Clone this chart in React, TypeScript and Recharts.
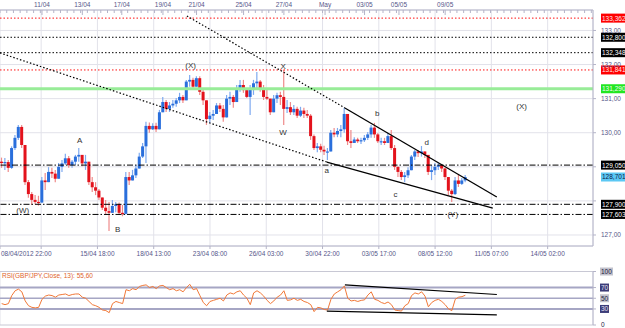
import React from 'react';
import {
  ComposedChart,
  LineChart,
  Line,
  Bar,
  XAxis,
  YAxis,
  CartesianGrid,
  ReferenceLine,
  ReferenceDot,
} from 'recharts';

// GBP/JPY, 4-hour buckets
const closes = [
  129.11, 129.14, 128.97, 129.55, 129.85, 130.17, 129.64, 128.55, 128.2, 128.03,
  127.97, 127.95, 128.6, 128.55, 128.85, 128.8, 128.65, 129.0, 129.1, 129.25,
  129.05, 129.15, 129.3, 129.35, 129.1, 129.15, 128.55, 128.4, 128.3, 128.1,
  127.8, 127.7, 127.65, 127.85, 127.9, 127.65, 127.62, 128.7, 128.6, 128.75,
  128.95, 129.3, 129.6, 130.2, 130.1, 130.2, 130.1, 130.6, 130.9, 130.7,
  130.8, 130.85, 130.95, 131.05, 130.95, 131.5, 131.55, 131.35, 131.6, 131.2,
  130.95, 130.4, 130.5, 130.55, 130.8, 130.7, 130.45, 131.0, 131.05, 130.9,
  131.3, 131.4, 131.25, 131.05, 131.3, 131.45, 131.5, 131.3, 131.05, 131.0,
  130.6, 131.0, 131.1, 131.05, 130.7, 130.75, 130.6, 130.7, 130.5, 130.65,
  130.55, 130.5, 129.9, 129.55, 129.6, 129.5, 129.45, 129.45, 130.0, 129.95,
  130.05, 130.1, 130.55, 129.75, 129.7, 129.8, 129.75, 129.78, 129.85, 129.95,
  130.15, 129.95, 129.75, 129.75, 129.7, 129.9, 129.55, 129.0, 128.85, 128.7,
  128.75, 128.9, 129.3, 129.45, 129.4, 129.45, 129.35, 128.85, 128.9, 129.0,
  129.05, 128.95, 128.7, 128.3, 128.2, 128.6, 128.5, 128.6, 128.7,
];
const highs = [
  129.27, 129.26, 129.2, 129.6, 129.93, 130.23, 130.23, 129.2, 128.61, 128.26,
  128.17, 128.15, 128.7, 128.82, 128.99, 128.97, 128.91, 129.11, 129.2, 129.38,
  129.32, 129.2, 129.35, 129.55, 129.3, 129.35, 129.15, 128.7, 128.55, 128.35,
  128.1, 128.03, 127.97, 128.03, 127.97, 127.95, 127.88, 128.85, 128.85, 128.91,
  129.05, 129.41, 129.7, 130.32, 130.3, 130.28, 130.29, 130.67, 131.05, 130.96,
  130.9, 130.96, 131.02, 131.17, 131.11, 131.55, 131.69, 131.61, 131.66, 131.66,
  131.31, 130.85, 130.61, 130.67, 130.87, 130.87, 130.81, 131.11, 131.2, 131.11,
  131.4, 131.55, 131.55, 131.25, 131.4, 131.55, 131.78, 131.55, 131.4, 131.25,
  130.96, 131.11, 131.17, 131.2, 131.84, 130.96, 130.9, 130.81, 130.76, 130.76,
  130.73, 130.67, 130.55, 129.95, 129.7, 129.68, 129.62, 129.55, 130.08, 130.14,
  130.14, 130.23, 130.73, 130.55, 130.08, 129.87, 129.85, 129.85, 129.93, 130.02,
  130.23, 130.29, 129.99, 129.85, 129.85, 129.99, 130.08, 129.64, 129.0, 128.91,
  128.85, 128.99, 129.35, 129.49, 129.49, 129.61, 129.43, 129.35, 129.05, 129.11,
  129.11, 129.05, 128.97, 128.61, 128.35, 128.7, 128.76, 128.67, 128.76,
];
const lows = [
  128.97, 128.91, 128.85, 128.94, 129.49, 129.79, 129.55, 128.47, 128.09, 127.88,
  127.9, 127.86, 128.0, 128.32, 128.61, 128.67, 128.55, 128.76, 128.85, 129.05,
  128.97, 128.97, 129.05, 129.15, 129.02, 128.91, 128.47, 128.26, 128.17, 128.03,
  127.73, 127.59, 127.12, 127.67, 127.67, 127.59, 127.55, 127.6, 128.47, 128.61,
  128.67, 129.05, 129.26, 129.11, 130.0, 130.08, 130.02, 130.25, 130.67, 130.61,
  130.61, 130.73, 130.76, 130.87, 130.87, 131.0, 131.35, 131.25, 131.4, 131.11,
  130.81, 130.23, 130.29, 130.37, 130.58, 130.61, 130.32, 130.73, 130.81, 130.73,
  130.96, 131.2, 131.17, 131.02, 130.52, 131.11, 131.3, 131.2, 130.96, 130.96,
  130.52, 130.81, 130.87, 130.81, 130.23, 130.58, 130.52, 130.52, 130.43, 130.46,
  130.43, 130.43, 129.79, 129.49, 129.43, 129.43, 129.35, 129.2, 129.45, 129.87,
  129.87, 129.87, 130.0, 129.64, 129.55, 129.7, 129.7, 129.67, 129.73, 129.79,
  129.85, 129.85, 129.7, 129.64, 129.64, 129.73, 129.49, 128.91, 128.7, 128.61,
  128.55, 128.67, 128.99, 129.2, 129.29, 129.3, 129.26, 128.76, 128.61, 128.76,
  128.91, 128.85, 128.61, 128.17, 127.97, 128.17, 128.41, 128.47, 128.55,
];
const rsiValues = [
  40, 38, 40, 55, 64, 67, 62, 45, 36, 33,
  32, 33, 48, 54, 56, 55, 52, 56, 57, 58,
  55, 57, 58, 58, 52, 50, 44, 38, 36, 33,
  28, 27, 23, 40, 44, 42, 40, 66, 64, 68,
  66, 72, 74, 75, 70, 72, 68, 73, 74, 70,
  66, 68, 64, 66, 62, 70, 76, 66, 68, 55,
  42, 36, 44, 46, 48, 50, 45, 56, 60, 58,
  62, 64, 56, 50, 38, 60, 64, 60, 54, 46,
  40, 45, 52, 56, 64, 46, 47, 50, 46, 48,
  44, 42, 38, 25, 33, 32, 29, 28, 48, 58,
  62, 66, 73, 50, 45, 46, 44, 46, 47, 56,
  62, 48, 46, 42, 40, 43, 38, 28, 27, 26,
  36, 40, 55, 60, 58, 62, 54, 34, 42, 46,
  48, 44, 38, 30, 27, 48, 52, 53, 55.6,
];
const firstOpen = 129.15;
const hoursPerCandle = 4;
const lastHour = 706;

const topTicks = [50, 98, 145, 194, 234, 290, 338, 387, 434, 475, 530];
const topLabels = ['11/04', '13/04', '17/04', '19/04', '21/04', '25/04', '27/04', 'May', '03/05', '05/05', '09/05'];
const bottomTicks = [0, 49, 116, 183, 250, 317, 384, 451, 518, 585, 652];
const bottomLabels = [
  '08/04/2012 22:00', '', '15/04 18:00', '18/04 13:00', '23/04 08:00', '26/04 03:00',
  '30/04 22:00', '03/05 17:00', '08/05 12:00', '11/05 07:00', '14/05 02:00',
];
const priceTicks = [127, 128, 129, 130, 131, 132, 133];
// 128,00 and 129,00 sit under the level tags in the original
const hiddenPriceTicks = [128, 129];
const levelValues = [133.362, 132.8, 132.348, 131.841, 131.29, 129.05, 127.9, 127.603];
const lastPrice = 128.701;
const rsiTicks = [0, 30, 50, 70, 100];
const rsiBands = [70, 50, 30];

const waveNames = ['(W)', 'A', 'B', '(X)', 'X', 'W', 'a', 'b', 'c', 'd', '(Y)', '(X)'];
const waveHours = [27, 95, 140, 227, 337, 337, 389, 449, 471, 508, 539, 621];
const wavePrices = [127.73, 129.76, 127.15, 131.96, 131.93, 130.02, 128.88, 130.55, 128.2, 129.7, 127.59, 130.76];

// wedge lines: [hour, price]
const upperDotted = [[222.5, 133.425], [410.6, 130.726]];
const upperSolid = [[410.6, 130.726], [591.5, 128.115]];
const lowerDotted = [[0, 132.34], [389.1, 129.14]];
const lowerSolid = [[389.1, 129.14], [586.7, 127.79]];
const rsiUpper = [[410.6, 75], [591.5, 57]];
const rsiLower = [[389.1, 25.9], [591.5, 18.8]];

const AXIS_TEXT = '#56568a';
const GRID = '#e2e2ea';
const FRAME = '#b4b4c8';

const candles = closes.map((close, i) => {
  const open = i === 0 ? firstOpen : closes[i - 1];
  const high = Math.max(highs[i], open, close);
  const low = Math.min(lows[i], open, close);
  return { t: i * hoursPerCandle + hoursPerCandle / 2, open, close, high, low, range: [low, high] };
});
const rsiData = rsiValues.map((v, i) => ({ t: i * hoursPerCandle + hoursPerCandle / 2, rsi: v }));
const topMinor = Array.from({ length: 89 }, (_, i) => i * 8);

const levelStyle = (i: number) => {
  if (i === 0 || i === 3) return { stroke: '#ff1010', dash: '1.5 2', width: 1, bg: '#ff0000', fg: '#ffe8e8' };
  if (i === 1 || i === 2) return { stroke: '#000', dash: '1.5 2', width: 1, bg: '#000', fg: '#fff' };
  if (i === 4) return { stroke: '#98ec98', dash: undefined, width: 3, bg: '#22e622', fg: '#f0fff0' };
  return { stroke: '#000', dash: '6 2 1.5 2', width: 1, bg: '#000', fg: '#fff' };
};

const fmt2 = (v: number) => (hiddenPriceTicks.includes(v) ? '' : v.toFixed(2).replace('.', ','));
const fmt3 = (v: number) => v.toFixed(3).replace('.', ',');

function Candle(props: any) {
  const { x, y, width, height, payload } = props;
  if (!payload || height == null) return null;
  const { open, close, high, low } = payload;
  const up = close >= open;
  const body = up ? '#2a6fdc' : '#e3121c';
  const wick = up ? '#7eaaf0' : '#ef8a8a';
  const span = high - low || 1;
  const toY = (v: number) => y + ((high - v) / span) * height;
  const cx = x + width / 2;
  const top = toY(Math.max(open, close));
  const bottom = toY(Math.min(open, close));
  return (
    <g>
      <line x1={cx} x2={cx} y1={y} y2={y + height} stroke={wick} strokeWidth={1.2} />
      <rect x={cx - 1.5} y={top} width={3} height={Math.max(bottom - top, 1.2)} fill={body} />
    </g>
  );
}

function TopTick({ x, y, payload }: any) {
  const i = topTicks.indexOf(payload.value);
  return (
    <g>
      <line x1={x} x2={x} y1={y} y2={y + (i >= 0 ? 5 : 3)} stroke={FRAME} />
      {i >= 0 && (
        <text x={x} y={y - 3} textAnchor="middle" fontSize={6.5} fill={AXIS_TEXT}>
          {topLabels[i]}
        </text>
      )}
    </g>
  );
}

function BottomTick({ x, y, payload }: any) {
  const i = bottomTicks.indexOf(payload.value);
  const first = i === 0;
  return (
    <text x={first ? x + 1 : x} y={y + 5} textAnchor={first ? 'start' : 'middle'} fontSize={6.5} fill={AXIS_TEXT}>
      {bottomLabels[i] || ''}
    </text>
  );
}

function PriceTag({ viewBox, text, bg, fg }: any) {
  if (!viewBox) return null;
  const x = viewBox.x + viewBox.width + 8;
  const y = viewBox.y;
  return (
    <g>
      <rect x={x} y={y - 4.5} width={25} height={9} fill={bg} />
      <text x={x + 1} y={y + 2.4} fontSize={6.5} fill={fg}>
        {text}
      </text>
    </g>
  );
}

function RsiTick({ x, y, payload }: any) {
  const v = payload.value;
  const dark = v === 30 || v === 70;
  return (
    <g>
      {v !== 0 && (
        <rect x={x - 1} y={y - 4} width={v === 100 ? 13 : 9} height={8} fill={dark ? '#3c3c78' : '#c2c2cc'} />
      )}
      <text x={x} y={y + 2.3} fontSize={6.5} fill={dark ? '#e4e4f4' : '#202040'}>
        {v}
      </text>
    </g>
  );
}

function WaveLabel(name: string) {
  return (p: any) => (
    <text x={p.cx} y={p.cy} textAnchor="middle" dominantBaseline="central" fontSize={8} fill="#333">
      {name}
    </text>
  );
}

const seg = (pts: number[][]) => pts.map(([x, y]) => ({ x, y }));

export default function App() {
  return (
    <div
      style={{
        position: 'absolute',
        left: 0,
        top: 0,
        width: 625,
        height: 328,
        background: '#fff',
        fontFamily: '"Liberation Sans", Arial, sans-serif',
      }}
    >
      <div style={{ position: 'absolute', left: 0, top: 0 }}>
        <ComposedChart width={625} height={260} data={candles} margin={{ top: 0, right: 0, bottom: 0, left: 0 }}>
          <CartesianGrid xAxisId="b" yAxisId="p" stroke={GRID} />
          <XAxis
            xAxisId="t"
            orientation="top"
            type="number"
            dataKey="t"
            domain={[0, lastHour]}
            allowDataOverflow
            ticks={topMinor.concat(topTicks)}
            interval={0}
            tick={<TopTick />}
            tickLine={false}
            tickSize={0}
            tickMargin={0}
            height={10}
            axisLine={{ stroke: FRAME }}
          />
          <XAxis
            xAxisId="b"
            type="number"
            dataKey="t"
            domain={[0, lastHour]}
            allowDataOverflow
            ticks={bottomTicks}
            interval={0}
            tick={<BottomTick />}
            tickSize={3}
            tickMargin={2}
            height={14}
            axisLine={{ stroke: FRAME }}
            tickLine={{ stroke: FRAME }}
          />
          <YAxis
            yAxisId="p"
            orientation="right"
            type="number"
            domain={[126.677, 133.6]}
            allowDataOverflow
            ticks={priceTicks}
            interval={0}
            width={32}
            tickSize={3}
            tickMargin={5}
            tickFormatter={fmt2}
            tick={{ fontSize: 6.5, fill: AXIS_TEXT }}
            axisLine={{ stroke: FRAME }}
            tickLine={{ stroke: FRAME }}
          />
          {levelValues.map((v, i) => {
            const s = levelStyle(i);
            return (
              <ReferenceLine
                key={'lv' + i}
                xAxisId="b"
                yAxisId="p"
                y={v}
                stroke={s.stroke}
                strokeWidth={s.width}
                strokeDasharray={s.dash}
                label={(p: any) => <PriceTag viewBox={p.viewBox} text={fmt3(v)} bg={s.bg} fg={s.fg} />}
              />
            );
          })}
          <ReferenceLine
            xAxisId="b"
            yAxisId="p"
            y={lastPrice}
            stroke="none"
            label={(p: any) => <PriceTag viewBox={p.viewBox} text={fmt3(lastPrice)} bg="#5cc8f4" fg="#10204a" />}
          />
          <Bar
            xAxisId="b"
            yAxisId="p"
            dataKey="range"
            barSize={3}
            shape={<Candle />}
            isAnimationActive={false}
          />
          <ReferenceLine xAxisId="b" yAxisId="p" segment={seg(upperDotted)} stroke="#000" strokeWidth={1.2} strokeDasharray="1.5 2" />
          <ReferenceLine xAxisId="b" yAxisId="p" segment={seg(lowerDotted)} stroke="#000" strokeWidth={1.2} strokeDasharray="1.5 2" />
          <ReferenceLine xAxisId="b" yAxisId="p" segment={seg(upperSolid)} stroke="#000" strokeWidth={1.3} />
          <ReferenceLine xAxisId="b" yAxisId="p" segment={seg(lowerSolid)} stroke="#000" strokeWidth={1.3} />
          {waveNames.map((name, i) => (
            <ReferenceDot
              key={'w' + i}
              xAxisId="b"
              yAxisId="p"
              x={waveHours[i]}
              y={wavePrices[i]}
              r={0}
              shape={WaveLabel(name)}
            />
          ))}
        </ComposedChart>
      </div>
      <div style={{ position: 'absolute', left: 0, top: 262 }}>
        <LineChart width={625} height={66} data={rsiData} margin={{ top: 9.5, right: 0, bottom: 3, left: 0 }}>
          <CartesianGrid horizontal={false} stroke={GRID} />
          <XAxis
            type="number"
            dataKey="t"
            domain={[0, lastHour]}
            allowDataOverflow
            ticks={bottomTicks}
            interval={0}
            tick={false}
            axisLine={false}
            tickLine={false}
            height={0}
          />
          <YAxis
            orientation="right"
            type="number"
            domain={[0, 100]}
            ticks={rsiTicks}
            interval={0}
            width={32}
            tickSize={3}
            tickMargin={5}
            tick={<RsiTick />}
            axisLine={{ stroke: FRAME }}
            tickLine={{ stroke: FRAME }}
          />
          <ReferenceLine
            y={100}
            stroke="#c8c8d4"
            label={{ value: 'RSI(GBP/JPY,Close, 13): 55,60', position: 'insideTopLeft', offset: 2, fontSize: 6.5, fill: '#e0642c' }}
          />
          <ReferenceLine y={0} stroke="#c8c8d4" />
          {rsiBands.map((b) => (
            <ReferenceLine key={'rb' + b} y={b} stroke="#a6a6c4" strokeWidth={b === 50 ? 1.5 : 2} />
          ))}
          <Line type="linear" dataKey="rsi" stroke="#f07838" strokeWidth={1} dot={false} isAnimationActive={false} />
          <ReferenceLine segment={seg(rsiUpper)} stroke="#000" strokeWidth={1.2} />
          <ReferenceLine segment={seg(rsiLower)} stroke="#000" strokeWidth={1.2} />
        </LineChart>
      </div>
    </div>
  );
}
